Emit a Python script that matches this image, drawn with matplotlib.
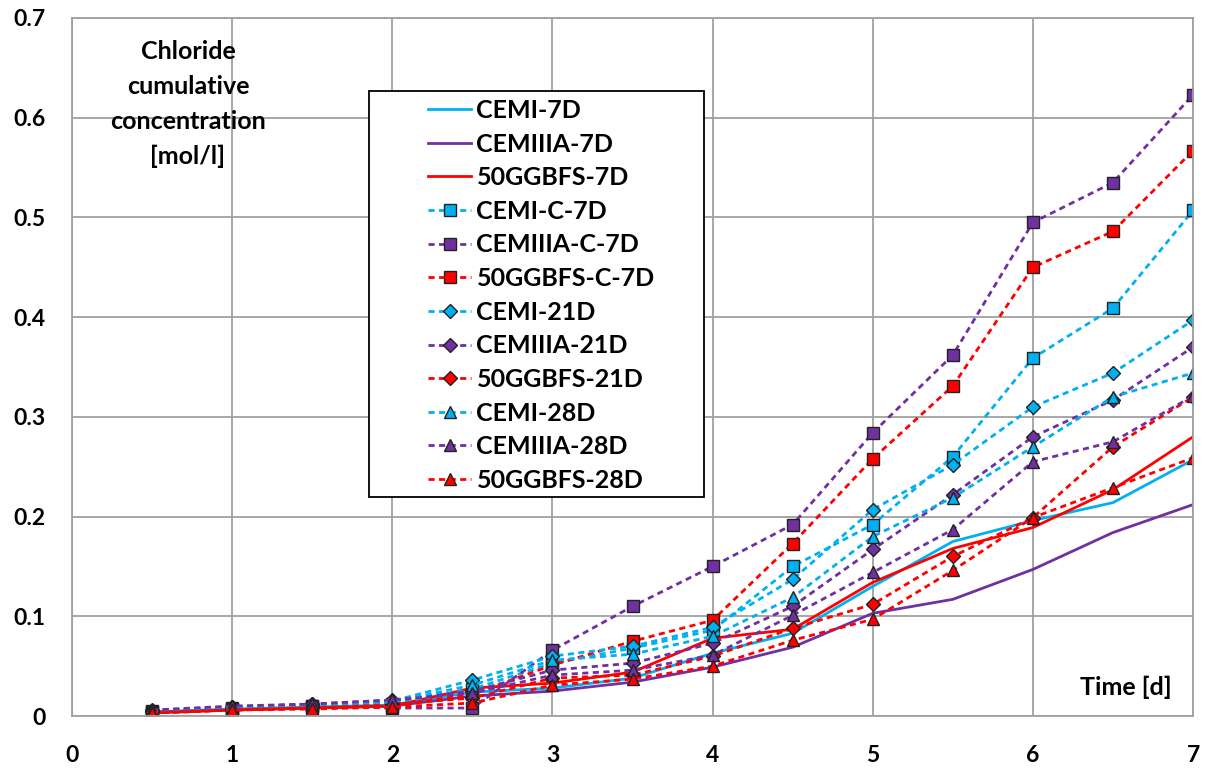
import matplotlib
matplotlib.use('Agg')
import matplotlib.pyplot as plt
from matplotlib.patches import Rectangle

plt.rcParams['font.family'] = ['Lato', 'DejaVu Sans']
plt.rcParams['font.weight'] = 'bold'

# tiempo de ensayo [d]
time_d = [0.5, 1, 1.5, 2, 2.5, 3, 3.5, 4, 4.5, 5, 5.5, 6, 6.5, 7]

# concentracion acumulada de cloruros [mol/l]
cemi_7d = [0.004, 0.007, 0.009, 0.011, 0.024, 0.028, 0.038, 0.063, 0.083, 0.130, 0.175, 0.196, 0.214, 0.257]
cemiiia_7d = [0.004, 0.006, 0.008, 0.010, 0.020, 0.025, 0.034, 0.049, 0.069, 0.103, 0.117, 0.147, 0.184, 0.212]
ggbfs_7d = [0.003, 0.006, 0.008, 0.010, 0.028, 0.033, 0.044, 0.078, 0.087, 0.134, 0.168, 0.189, 0.227, 0.280]
cemi_c_7d = [0.005, 0.008, 0.010, 0.012, 0.027, 0.053, 0.068, 0.086, 0.150, 0.192, 0.260, 0.359, 0.409, 0.507]
cemiiia_c_7d = [0.004, 0.007, 0.010, 0.008, 0.008, 0.066, 0.110, 0.150, 0.192, 0.284, 0.362, 0.495, 0.535, 0.623]
ggbfs_c_7d = [0.003, 0.006, 0.008, 0.010, 0.022, 0.051, 0.075, 0.096, 0.173, 0.258, 0.331, 0.450, 0.486, 0.567]
cemi_21d = [0.006, 0.009, 0.012, 0.015, 0.036, 0.060, 0.070, 0.089, 0.137, 0.207, 0.252, 0.310, 0.344, 0.397]
cemiiia_21d = [0.005, 0.009, 0.012, 0.016, 0.025, 0.046, 0.053, 0.073, 0.110, 0.167, 0.222, 0.280, 0.317, 0.370]
ggbfs_21d = [0.004, 0.007, 0.009, 0.012, 0.018, 0.038, 0.041, 0.060, 0.088, 0.112, 0.160, 0.199, 0.270, 0.320]
cemi_28d = [0.005, 0.009, 0.011, 0.014, 0.031, 0.056, 0.062, 0.080, 0.119, 0.180, 0.219, 0.270, 0.320, 0.344]
cemiiia_28d = [0.006, 0.010, 0.012, 0.016, 0.023, 0.041, 0.046, 0.061, 0.101, 0.144, 0.187, 0.255, 0.275, 0.321]
ggbfs_28d = [0.003, 0.006, 0.007, 0.009, 0.013, 0.031, 0.037, 0.050, 0.076, 0.097, 0.146, 0.199, 0.229, 0.259]

x_ticks = [0, 1, 2, 3, 4, 5, 6, 7]
y_ticks = [0, 0.1, 0.2, 0.3, 0.4, 0.5, 0.6, 0.7]
y_labels = ['0', '0.1', '0.2', '0.3', '0.4', '0.5', '0.6', '0.7']

CYAN = '#00B0F0'
PURPLE = '#7030A0'
RED = '#FF0000'

fig = plt.figure(figsize=(12.1, 7.69), dpi=100)
ax = fig.add_axes([0.0595, 0.0689, 0.9265, 0.9077])

# curvas sin marcador
ax.plot(time_d, cemi_7d, color=CYAN, lw=2.0, label='CEMI-7D')
ax.plot(time_d, cemiiia_7d, color=PURPLE, lw=2.0, label='CEMIIIA-7D')
ax.plot(time_d, ggbfs_7d, color=RED, lw=2.0, label='50GGBFS-7D')

# curvas con marcador
series = [
    (cemi_c_7d, CYAN, 's', 8.5, 'CEMI-C-7D'),
    (cemiiia_c_7d, PURPLE, 's', 8.5, 'CEMIIIA-C-7D'),
    (ggbfs_c_7d, RED, 's', 8.5, '50GGBFS-C-7D'),
    (cemi_21d, CYAN, 'D', 7.5, 'CEMI-21D'),
    (cemiiia_21d, PURPLE, 'D', 7.5, 'CEMIIIA-21D'),
    (ggbfs_21d, RED, 'D', 7.5, '50GGBFS-21D'),
    (cemi_28d, CYAN, '^', 9, 'CEMI-28D'),
    (cemiiia_28d, PURPLE, '^', 9, 'CEMIIIA-28D'),
    (ggbfs_28d, RED, '^', 9, '50GGBFS-28D'),
]
for vals, col, mk, ms, lab in series:
    ax.plot(time_d, vals, color=col, lw=2.0, ls=(0, (2.2, 1.6)), marker=mk,
            markersize=ms, markerfacecolor=col, markeredgecolor='#222222',
            markeredgewidth=1.0, label=lab)

ax.set_xlim(0, 7)
ax.set_ylim(0, 0.7)
ax.set_xticks(x_ticks)
ax.set_yticks(y_ticks)
ax.set_yticklabels(y_labels)
ax.tick_params(length=0, labelsize=16.5)
ax.tick_params(axis='y', pad=19)
ax.tick_params(axis='x', pad=21)
for lbl in ax.get_xticklabels() + ax.get_yticklabels():
    lbl.set_fontweight('bold')
ax.grid(True, color='#a0a0a0', lw=1.3)
ax.set_axisbelow(True)
for sp in ax.spines.values():
    sp.set_color('#a0a0a0')
    sp.set_linewidth(1.3)

ax.text(0.1035, 0.968, 'Chloride\ncumulative\nconcentration\n[mol/l]', transform=ax.transAxes,
        ha='center', va='top', fontsize=18, fontweight='bold', linespacing=1.62)
ax.text(0.981, 0.0415, 'Time [d]', transform=ax.transAxes, ha='right', va='center',
        fontsize=18, fontweight='bold')

# recuadro de la leyenda
box = Rectangle((0.265, 0.3138), 0.5638 - 0.265, 0.8954 - 0.3138, transform=ax.transAxes,
                facecolor='white', edgecolor='black', lw=1.3, zorder=5)
ax.add_patch(box)

leg = ax.legend(loc='upper left', bbox_to_anchor=(0.318, 0.884), fontsize=18,
                frameon=False, handlelength=1.72, labelspacing=0.425, borderpad=0,
                borderaxespad=0, handletextpad=0.2)
leg.set_zorder(6)
for t in leg.get_texts():
    t.set_fontweight('bold')

fig.savefig('out.png', dpi=100)
